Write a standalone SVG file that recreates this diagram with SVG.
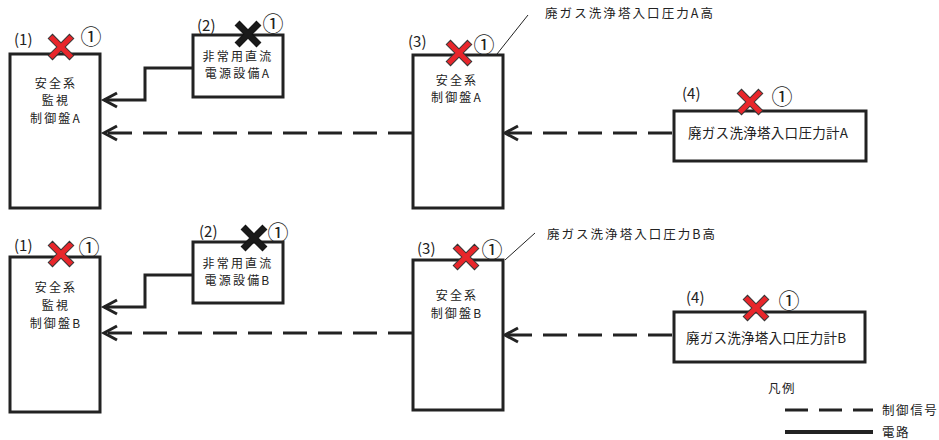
<svg xmlns="http://www.w3.org/2000/svg" width="939" height="440" viewBox="0 0 939 440">
<style>
text{font-family:"Noto Sans CJK JP","Noto Sans",sans-serif;fill:#222}
.box{fill:#fff;stroke:#222;stroke-width:3}
.t{font-size:12px;letter-spacing:2.2px;text-anchor:middle}
.t4{font-size:13.5px}
.lab{font-size:12.5px}
.leg{font-size:12.5px;letter-spacing:1.6px}
.num{font-size:15px}
.c{font-size:21px;text-anchor:middle}
.wire{fill:none;stroke:#222;stroke-width:3}
.sig{fill:none;stroke:#222;stroke-width:3;stroke-dasharray:24 11}
.lead{fill:none;stroke:#222;stroke-width:1}
</style>
<defs>
<marker id="arr" markerUnits="userSpaceOnUse" markerWidth="20" markerHeight="20" viewBox="-16 -10 20 20" refX="0" refY="0" orient="auto" overflow="visible">
<path d="M-13,-7 L0,0 L-13,7" fill="none" stroke="#222" stroke-width="3"/>
</marker>
<polygon id="x" points="-3,-15 3,-15 3,-3 15,-3 15,3 3,3 3,15 -3,15 -3,3 -15,3 -15,-3 -3,-3" transform="rotate(45)"/>
</defs>

<g id="connectors">
<path class="wire" d="M193,68 H145 V100 H104" marker-end="url(#arr)"/>
<path class="sig" d="M412,133 H104" marker-end="url(#arr)"/>
<path class="sig" d="M672,133 H505" marker-end="url(#arr)"/>
<path class="lead" d="M497,54 L528,15"/>
<path class="wire" d="M193,275 H145 V307 H104" marker-end="url(#arr)"/>
<path class="sig" d="M412,333 H104" marker-end="url(#arr)"/>
<path class="sig" d="M672,335 H505" marker-end="url(#arr)"/>
<path class="lead" d="M505,260 L535,233"/>
</g>

<g id="n1A">
<rect class="box" x="10" y="54" width="90" height="154"/>
<text class="t" x="56" y="87.5">安全系</text>
<text class="t" x="56" y="105">監視</text>
<text class="t" x="56" y="122.5">制御盤A</text>
<text class="num" x="14" y="45">(1)</text>
<text class="c" x="91" y="43.5">①</text>
<use href="#x" x="61" y="47" fill="#e8262b" stroke="#333" stroke-width="1"/>
</g>
<g id="n2A">
<rect class="box" x="193" y="35" width="90" height="62"/>
<text class="t" x="238" y="61">非常用直流</text>
<text class="t" x="238" y="77.5">電源設備A</text>
<text class="num" x="197" y="31">(2)</text>
<text class="c" x="273" y="30.5">①</text>
<use href="#x" x="248" y="34" fill="#1a1a1a" stroke="#111" stroke-width="1"/>
</g>
<g id="n3A">
<rect class="box" x="413" y="55" width="90" height="153"/>
<text class="t" x="457" y="84.5">安全系</text>
<text class="t" x="457" y="101.5">制御盤A</text>
<text class="num" x="408" y="47">(3)</text>
<text class="c" x="484" y="51.5">①</text>
<use href="#x" x="459" y="53" fill="#e8262b" stroke="#333" stroke-width="1"/>
<text class="lab" x="545" y="18" textLength="168" lengthAdjust="spacing">廃ガス洗浄塔入口圧力A高</text>
</g>
<g id="n4A">
<rect class="box" x="674" y="111" width="192" height="50"/>
<text class="t4" x="688" y="138" textLength="160" lengthAdjust="spacing">廃ガス洗浄塔入口圧力計A</text>
<text class="num" x="682" y="99">(4)</text>
<text class="c" x="782" y="103.5">①</text>
<use href="#x" x="750" y="102" fill="#e8262b" stroke="#333" stroke-width="1"/>
</g>

<g id="n1B">
<rect class="box" x="10" y="257" width="90" height="155"/>
<text class="t" x="56" y="291.5">安全系</text>
<text class="t" x="56" y="309.5">監視</text>
<text class="t" x="56" y="327.5">制御盤B</text>
<text class="num" x="14" y="251">(1)</text>
<text class="c" x="89" y="254.5">①</text>
<use href="#x" x="61" y="254" fill="#e8262b" stroke="#333" stroke-width="1"/>
</g>
<g id="n2B">
<rect class="box" x="193" y="242" width="90" height="61"/>
<text class="t" x="238" y="267.5">非常用直流</text>
<text class="t" x="238" y="284.5">電源設備B</text>
<text class="num" x="199" y="237">(2)</text>
<text class="c" x="278" y="239.5">①</text>
<use href="#x" x="254" y="238" fill="#1a1a1a" stroke="#111" stroke-width="1"/>
</g>
<g id="n3B">
<rect class="box" x="413" y="260" width="90" height="150"/>
<text class="t" x="457" y="299.5">安全系</text>
<text class="t" x="457" y="317.5">制御盤B</text>
<text class="num" x="417" y="254">(3)</text>
<text class="c" x="492" y="256.5">①</text>
<use href="#x" x="466" y="257" fill="#e8262b" stroke="#333" stroke-width="1"/>
<text class="lab" x="547" y="239" textLength="168" lengthAdjust="spacing">廃ガス洗浄塔入口圧力B高</text>
</g>
<g id="n4B">
<rect class="box" x="674" y="312" width="191" height="50"/>
<text class="t4" x="686" y="343" textLength="160" lengthAdjust="spacing">廃ガス洗浄塔入口圧力計B</text>
<text class="num" x="686" y="303">(4)</text>
<text class="c" x="789" y="308">①</text>
<use href="#x" x="756" y="308" fill="#e8262b" stroke="#333" stroke-width="1"/>
</g>

<g id="legend">
<text class="leg" x="768" y="393">凡例</text>
<path d="M785,410 H873" fill="none" stroke="#222" stroke-width="3" stroke-dasharray="23 11"/>
<path d="M785,432 H873" fill="none" stroke="#222" stroke-width="4"/>
<text class="leg" x="882" y="415">制御信号</text>
<text class="leg" x="882" y="437">電路</text>
</g>
</svg>
